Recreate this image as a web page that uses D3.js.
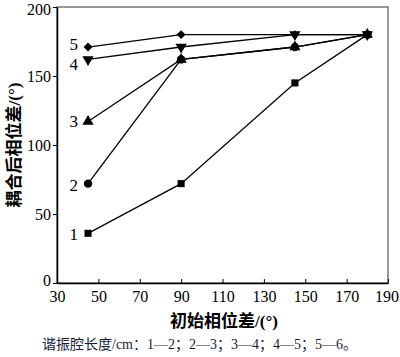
<!DOCTYPE html>
<html><head><meta charset="utf-8">
<script src="https://cdn.jsdelivr.net/npm/d3@7"></script>
<style>body{margin:0;background:#fff}svg{display:block}</style>
</head><body>
<script>
const xValues = [45, 90, 145, 180];
const series1 = [36, 72, 145, 180];
const series2 = [72, 162, 171, 180];
const series3 = [117, 162, 171, 180];
const series4 = [162, 171, 180, 180];
const series5 = [171, 180, 180, 180];
const seriesLabels = ["1", "2", "3", "4", "5"];
const xTicks = [30, 50, 70, 90, 110, 130, 150, 170, 190];
const yTicks = [0, 50, 100, 150, 200];
const xTitle = "初始相位差/(°)";
const yTitle = "耦合后相位差/(°)";
const caption = "谐振腔长度/cm：1—2；2—3；3—4；4—5；5—6。";

const W = 400, H = 357;
const m = {l: 57, r: 12, t: 7, b: 74};
const svg = d3.select("body").append("svg").attr("width", W).attr("height", H);
const x = d3.scaleLinear().domain([30, 190]).range([m.l, W - m.r]);
const y = d3.scaleLinear().domain([0, 200]).range([H - m.b, m.t]);
const numFont = "'Liberation Serif','Times New Roman',serif";
const cjkFont = "'Liberation Serif','Noto Sans CJK SC',serif";

// frame
svg.append("rect").attr("x", x(30)).attr("y", y(200))
  .attr("width", x(190) - x(30)).attr("height", y(0) - y(200))
  .attr("fill", "none").attr("stroke", "#555").attr("stroke-width", 1.2);

const xa = svg.append("g").attr("transform", `translate(0,${y(0)})`)
  .call(d3.axisBottom(x).tickValues(xTicks).tickSizeInner(-4).tickSizeOuter(0).tickPadding(8));
const ya = svg.append("g").attr("transform", `translate(${x(30)},0)`)
  .call(d3.axisLeft(y).tickValues(yTicks).tickSizeInner(4).tickSizeOuter(0).tickPadding(2));
[xa, ya].forEach(a => {
  a.select(".domain").attr("stroke", "#000").attr("stroke-width", 1.5);
  a.selectAll(".tick line").attr("stroke", "#000").attr("stroke-width", 1);
  a.selectAll("text").attr("font-family", numFont).attr("font-size", 16).attr("fill", "#000");
});
ya.selectAll(".tick").filter(d => d === 0).select("text").attr("dy", "0.15em");
ya.selectAll(".tick").filter(d => d === 200).select("text").attr("dy", "0.45em");
xa.selectAll(".tick").filter(d => d === 190).select("text").attr("dx", "-0.1em");

const all = [series1, series2, series3, series4, series5];
const line = d3.line().x((d, i) => x(xValues[i])).y(d => y(d));
all.forEach(s => {
  svg.append("path").datum(s).attr("d", line).attr("fill", "none")
    .attr("stroke", "#000").attr("stroke-width", 1.3);
});
const shapes = [d3.symbolSquare, d3.symbolCircle, d3.symbolTriangle, d3.symbolTriangle, d3.symbolSquare];
const sizes = [50, 55, 55, 55, 40];
const rot = [0, 0, 0, 180, 45];
const drawOrder = [2, 1, 3, 4, 0];
drawOrder.forEach(k => {
  const s = all[k];
  svg.append("g").selectAll("path").data(s).join("path")
    .attr("d", d3.symbol().type(shapes[k]).size(sizes[k]))
    .attr("transform", (d, i) => `translate(${x(xValues[i])},${y(d)}) rotate(${rot[k]})`)
    .attr("fill", "#000");
});
// series labels
const labelDy = [3, 3, 2, 7, -1];
all.forEach((s, k) => {
  svg.append("text").attr("x", x(xValues[0]) - 10).attr("y", y(s[0]) + labelDy[k])
    .attr("text-anchor", "end").attr("dominant-baseline", "middle")
    .attr("font-family", numFont).attr("font-size", 17).text(seriesLabels[k]);
});

svg.append("text").attr("x", 224).attr("y", 327).attr("text-anchor", "middle")
  .attr("font-family", cjkFont).attr("font-size", 17).attr("font-weight", "bold").text(xTitle);
svg.append("text").attr("transform", `translate(20,${(y(0) + y(200)) / 2}) rotate(-90)`)
  .attr("text-anchor", "middle").attr("font-family", cjkFont).attr("font-size", 17)
  .attr("font-weight", "bold").text(yTitle);
svg.append("text").attr("x", 42).attr("y", 349).attr("font-family", cjkFont)
  .attr("font-size", 14).attr("fill", "#1a1a3a").text(caption);
</script>
</body></html>
